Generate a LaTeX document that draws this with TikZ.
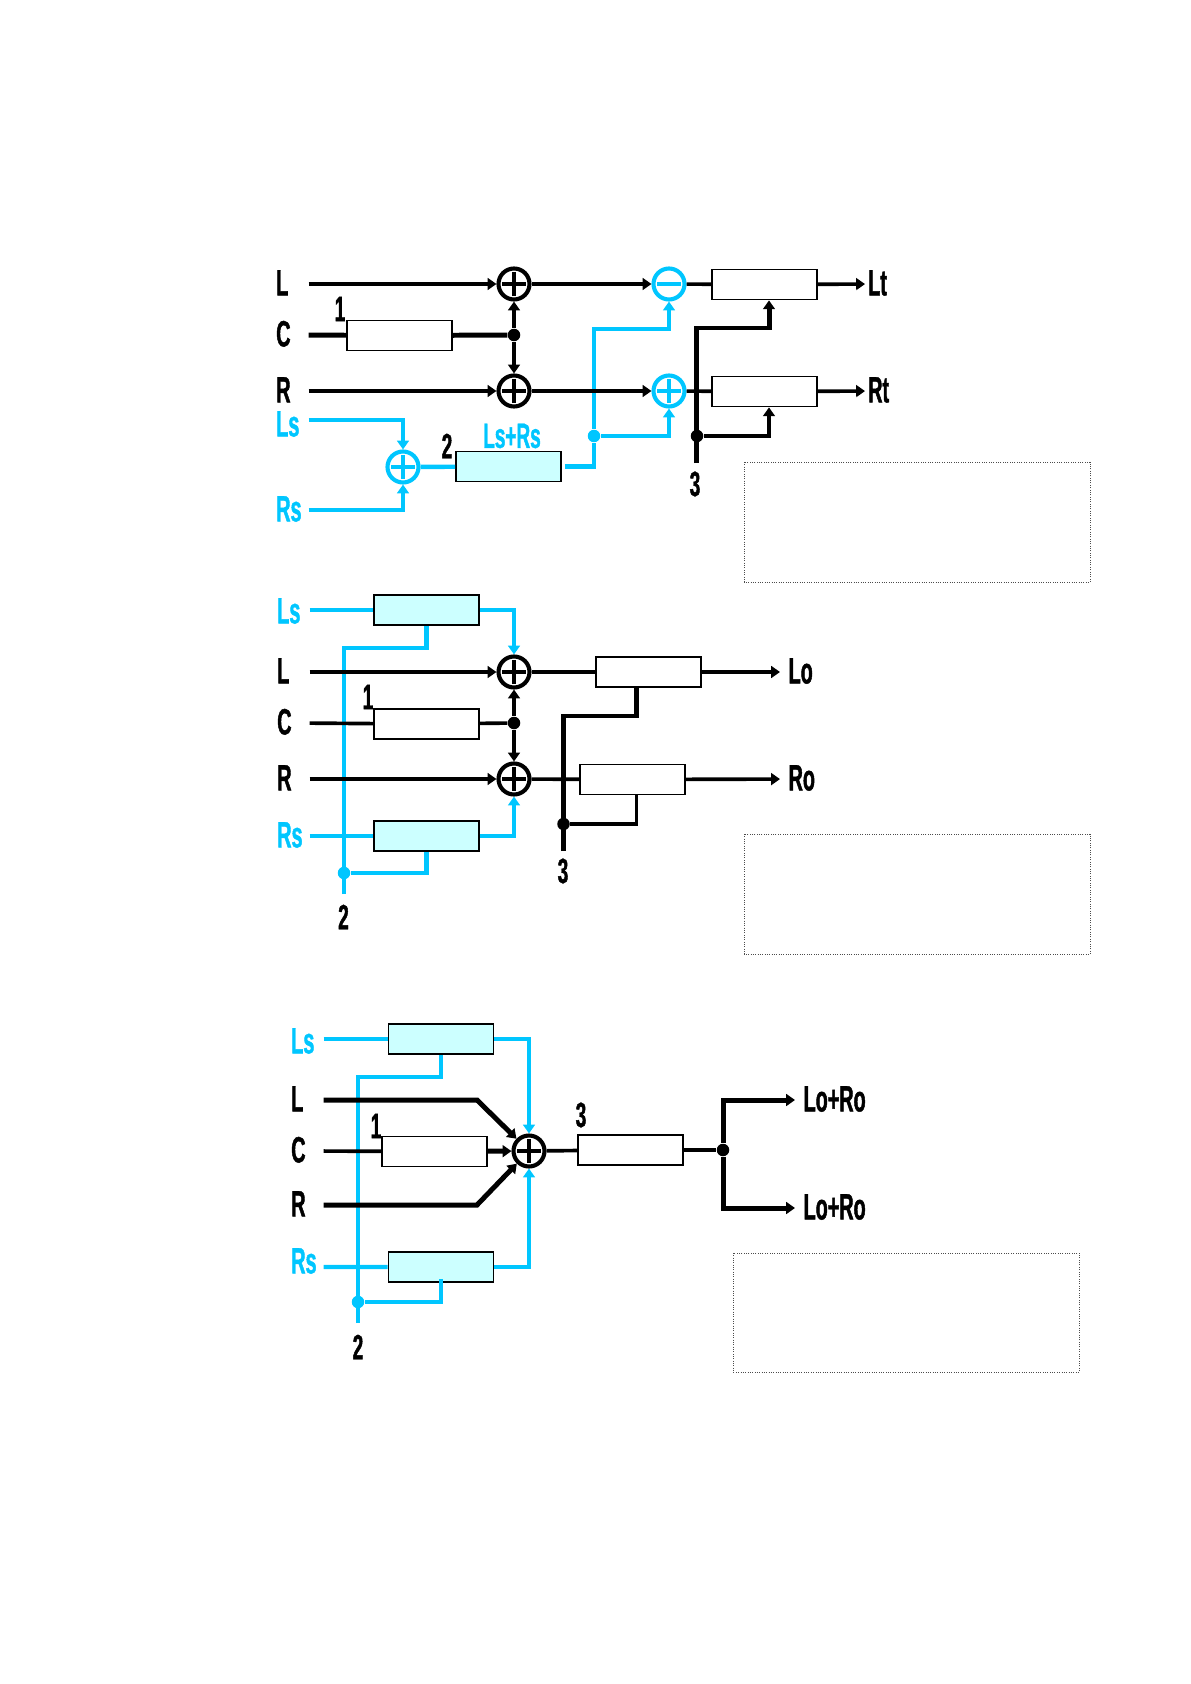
\documentclass[tikz,border=0pt]{standalone}
\usepackage{fontspec}
\usepackage{tikz}
\usetikzlibrary{calc}
\usetikzlibrary{positioning}
\usetikzlibrary{arrows.meta}
\newfontfamily\lblfont[FakeStretch=0.54,FakeBold=1.2]{Liberation Sans}
\definecolor{skyc}{RGB}{0,198,255}
\definecolor{palec}{RGB}{204,255,255}

\begin{document}
\begin{tikzpicture}[
		x=0.024cm, y=-0.024cm,
		sg/.style = {black, line width=2.5pt},
		tk/.style = {black, line width=3.4pt},
		cy/.style = {skyc, line width=3pt},
		cn/.style = {skyc, line width=2.4pt},
		ar/.style = {-{Triangle[length=6pt, width=8pt]}},
		bx/.style = {draw=black, line width=1.2pt, fill=white, inner sep=0, minimum width=2.52cm, minimum height=0.72cm},
		bc/.style = {bx, fill=palec},
		sk/.style = {circle, draw=black, line width=2.8pt, inner sep=0, minimum size=0.744cm, fill=white},
		sc/.style = {sk, draw=skyc},
		pk/.style = {sk, path picture={\draw[black, line width=3pt] (-12,0) -- (12,0) (0,-12) -- (0,12);}},
		pc/.style = {sc, path picture={\draw[skyc, line width=3pt] (-12,0) -- (12,0) (0,-12) -- (0,12);}},
		mc/.style = {sc, path picture={\draw[skyc, line width=3pt] (-12,0) -- (12,0);}},
		dk/.style = {circle, fill=black, inner sep=0, minimum size=0.3cm},
		dc/.style = {circle, fill=skyc, inner sep=0, minimum size=0.3cm},
		la/.style = {font=\lblfont\bfseries\fontsize{25}{25}\selectfont, inner sep=0, anchor=west, align=left, text width=0.768cm, text height=0.648cm, text depth=0.1cm},
		lc/.style = {la, text=skyc},
		ou/.style = {font=\lblfont\bfseries\fontsize{25}{25}\selectfont, inner ysep=0, inner xsep=0.2cm, anchor=west, text height=0.648cm, text depth=0.1cm},
		nu/.style = {font=\lblfont\bfseries\fontsize{24}{24}\selectfont, inner sep=0},
		no/.style = {draw=black!70, densely dotted, line width=0.6pt},
		]
		\useasboundingbox (0,0) rectangle (1190,1684);

		% first group
		\node[la] (aL) at (276,284) {L};
		\node[la] (aC) at (276,335) {C};
		\node[la] (aR) at (276,391) {R};
		\node[lc] (aLs) at (276,425) {Ls};
		\node[lc] (aRs) at (276,510) {Rs};
		\node[pk] (aSl) at (514,284) {};
		\node[pk] (aSr) at (514,391) {};
		\node[pc] (aSs) at (403,467) {};
		\node[mc] (aMi) at (669,284) {};
		\node[pc] (aPl) at (669,391) {};
		\node[bx] (aBc) at (399.5,335.5) {};
		\node[bc] (aBs) at (508.5,466.5) {};
		\node[bx] (aBl) at (764.5,284.5) {};
		\node[bx] (aBr) at (764.5,391.5) {};
		\node[dk] (aDc) at (514,335) {};
		\node[dc] (aDs) at (594,436) {};
		\node[dk] (aD3) at (697,436) {};
		\node[ou, inner xsep=0.07cm] (aLt) at (865,284) {Lt};
		\node[ou, inner xsep=0.07cm] (aRt) at (865,391) {Rt};
		\node[nu] (a1) at (340,309) {1};
		\node[nu] (a2) at (447,446) {2};
		\node[nu] (a3) at (695,484) {3};
		\node[nu, text=skyc] (aSum) at (512,436) {Ls+Rs};
		\coordinate (aE3) at (696,463);
		\coordinate (aT3) at (696,328);
		\coordinate (aTs) at (594,329);
		\draw[cy,ar] ([yshift=0.12cm]aLs.east) -| (aSs);
		\draw[cy,ar] (aRs) -| (aSs);
		\draw[cy] (aSs) -- (aBs);
		\draw[cy] ([xshift=0.07cm]aBs.east) -| (aDs);
		\draw[cy,ar] (aDs) -- (aTs) -| (aMi);
		\draw[cy,ar] (aDs) -| (aPl);
		\draw[sg,ar] (aL) -- (aSl);
		\draw[sg,ar] (aR) -- (aSr);
		\draw[tk] (aC) -- (aBc);
		\draw[tk] (aBc) -- (aDc);
		\draw[sg,ar] (aDc) -- (aSl);
		\draw[sg,ar] (aDc) -- (aSr);
		\draw[sg,ar] (aSl) -- (aMi);
		\draw[sg,ar] (aSr) -- (aPl);
		\draw[sg] (aMi) -- (aBl);
		\draw[sg] (aPl) -- (aBr);
		\draw[sg,ar] (aBl) -- (aLt);
		\draw[sg,ar] (aBr) -- (aRt);
		\draw[tk,ar] (aE3) -- (aT3) -| ([xshift=0.108cm]aBl.south);
		\draw[sg,ar] (aD3) -| ([xshift=0.108cm]aBr.south);
		\draw[no] (744,462) rectangle (1090,582);

		% second group
		\node[la] (bL) at (277,672) {L};
		\node[la] (bC) at (277,723) {C};
		\node[la] (bR) at (277,779) {R};
		\node[lc] (bLs) at (277,612) {Ls};
		\node[lc] (bRs) at (277,836) {Rs};
		\node[pk] (bSl) at (514,672) {};
		\node[pk] (bSr) at (514,779) {};
		\node[bc] (bBt) at (426.5,610) {};
		\node[bx] (bBc) at (426.5,724) {};
		\node[bc] (bBb) at (426.5,836) {};
		\node[bx] (bBl) at (648.5,672) {};
		\node[bx] (bBr) at (632.5,779.5) {};
		\node[dk] (bDc) at (514,723) {};
		\node[dc] (bD2) at (344,873) {};
		\node[dk] (bD3) at (563.5,824) {};
		\node[ou] (bLo) at (780,672) {Lo};
		\node[ou] (bRo) at (780,779) {Ro};
		\node[nu] (b1) at (368,697) {1};
		\node[nu] (b2) at (343.5,917) {2};
		\node[nu] (b3) at (563,871) {3};
		\coordinate (bE2) at (344,894);
		\coordinate (bT2) at (344,648);
		\coordinate (bE3) at (563.5,851);
		\coordinate (bT3) at (563.5,716);
		\draw[cy] ([yshift=0.048cm]bLs.east) -- (bBt);
		\draw[cy,ar] (bBt) -| (bSl);
		\draw[cy] (bRs.east) -- (bBb);
		\draw[cy,ar] (bBb) -| (bSr);
		\draw[cy] (bE2) -- (bT2) -| (bBt);
		\draw[cy] (bD2) -| (bBb);
		\draw[sg,ar] (bL) -- (bSl);
		\draw[sg,ar] (bR) -- (bSr);
		\draw[sg] (bC) -- (bBc);
		\draw[sg] (bBc) -- (bDc);
		\draw[sg,ar] (bDc) -- (bSl);
		\draw[sg,ar] (bDc) -- (bSr);
		\draw[sg] (bSl) -- (bBl);
		\draw[sg] (bSr) -- (bBr);
		\draw[sg,ar] (bBl) -- (bLo);
		\draw[sg,ar] (bBr) -- (bRo);
		\draw[tk] (bE3) -- (bT3) -| ([xshift=-0.288cm]bBl.south);
		\draw[sg] (bD3) -| ([xshift=0.096cm]bBr.south);
		\draw[no] (744,834) rectangle (1090,954);

		% third group
		\node[la] (cL) at (291,1100) {L};
		\node[la] (cC) at (291,1151) {C};
		\node[la] (cR) at (291,1205) {R};
		\node[lc] (cLs) at (291,1042) {Ls};
		\node[lc] (cRs) at (291,1262) {Rs};
		\node[pk] (cS) at (529,1151) {};
		\node[bc] (cBt) at (441,1039) {};
		\node[bx] (cBc) at (434.5,1151.5) {};
		\node[bc] (cBb) at (441,1267) {};
		\node[bx] (cBo) at (630.5,1150) {};
		\node[dk] (cD) at (723,1150) {};
		\node[dc] (cD2) at (358,1302) {};
		\node[ou] (cLa) at (795,1100) {Lo+Ro};
		\node[ou] (cLb) at (795,1208) {Lo+Ro};
		\node[nu] (c1) at (376,1126) {1};
		\node[nu] (c2) at (358,1347) {2};
		\node[nu] (c3) at (581,1115) {3};
		\coordinate (cE2) at (358,1323);
		\coordinate (cT2) at (358,1077);
		\coordinate (cTl) at (477,1100);
		\coordinate (cTr) at (477,1205);
		\draw[cy] ([yshift=0.072cm]cLs.east) -- (cBt);
		\draw[cn,ar] (cBt) -| (cS);
		\draw[cy] ([yshift=-0.12cm]cRs.east) -- (cBb);
		\draw[cn,ar] (cBb) -| (cS);
		\draw[cy] (cE2) -- (cT2) -| (cBt);
		\draw[cy] (cD2) -| ([yshift=0.096cm]cBb.south);
		\draw[tk,ar] (cL) -- (cTl) -- (cS);
		\draw[tk,ar] (cR) -- (cTr) -- (cS);
		\draw[sg] (cC) -- (cBc);
		\draw[tk,ar] (cBc) -- (cS);
		\draw[sg] (cS) -- (cBo);
		\draw[sg] (cBo) -- (cD);
		\draw[tk,ar] (cD) |- (cLa);
		\draw[tk,ar] (cD) |- (cLb);
		\draw[no] (733,1253) rectangle (1079,1372);
	\end{tikzpicture}
\end{document}
